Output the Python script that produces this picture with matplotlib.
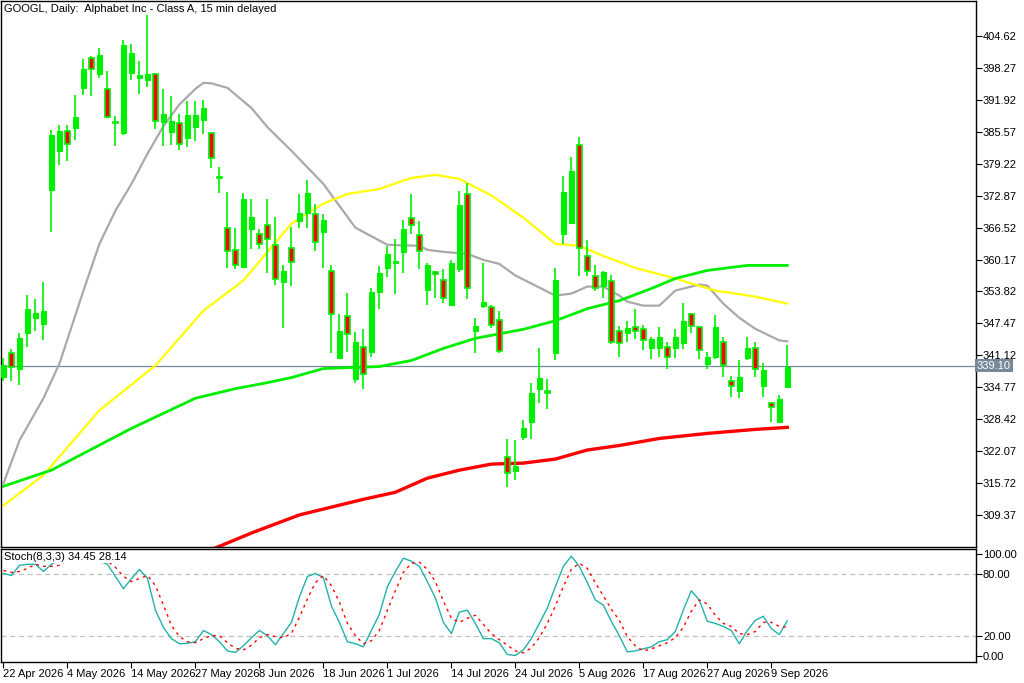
import matplotlib
matplotlib.use("Agg")
import matplotlib.pyplot as plt
from matplotlib.patches import Rectangle

# OHLC (daily candles)
opens  = [336.9,341.5,338.5,345.6,348.6,347.4,374.0,381.8,385.7,386.3,394.3,400.2,397.1,394.1,387.5,385.3,397.3,396.3,395.9,397.1,
          387.5,385.5,387.3,384.4,386.5,387.9,385.3,376.6,366.5,362.1,358.7,366.3,365.3,367.1,363.1,355.8,362.5,367.9,369.5,369.3,
          365.7,357.8,340.5,349.0,336.5,342.7,341.7,353.8,358.4,359.5,361.7,368.5,365.1,354.2,357.6,356.2,351.2,358.2,373.2,345.9,
          351.0,350.8,348.2,321.0,318.1,324.8,327.8,334.5,334.1,341.5,365.3,367.5,383.0,360.9,356.8,355.0,356.0,345.9,345.5,346.7,
          346.3,342.5,342.5,342.7,342.5,343.5,349.4,346.7,339.5,340.7,343.7,336.0,334.1,340.5,342.5,335.1,331.6,327.8,334.9]
highs  = [340.5,342.3,345.5,353.2,352.4,355.8,386.0,386.9,386.9,392.9,400.0,400.6,402.2,397.7,388.7,403.8,403.0,399.6,408.8,397.3,
          394.1,392.7,389.1,391.7,391.7,391.9,385.3,378.6,373.6,366.5,373.4,372.2,366.3,372.2,368.7,359.0,366.7,373.2,376.0,371.3,
          369.3,359.0,349.4,353.6,345.7,346.4,354.6,358.8,362.9,364.3,368.1,373.2,367.9,359.5,357.8,358.2,360.1,373.8,375.4,348.6,
          359.5,351.2,350.0,324.4,324.2,328.2,335.7,342.5,336.5,358.5,376.8,380.6,384.6,364.1,359.0,357.8,357.0,347.0,348.0,350.4,
          347.2,344.7,346.8,343.7,346.3,351.6,349.6,346.8,341.7,349.2,344.7,337.1,340.1,344.7,343.7,339.7,331.8,333.3,343.1]
lows   = [336.1,336.1,335.3,342.7,346.0,344.1,365.7,379.0,379.8,384.0,392.9,392.7,396.3,388.3,382.8,384.9,395.9,393.1,394.5,386.1,
          382.8,383.0,382.0,382.6,383.8,385.1,378.4,373.4,358.4,358.2,358.5,362.3,362.3,357.4,355.2,346.5,355.0,366.5,366.5,361.9,
          358.5,341.5,340.3,341.7,335.7,334.5,340.7,350.4,356.6,353.4,357.4,365.3,358.2,351.2,352.6,351.6,351.2,357.6,352.4,341.5,
          350.6,346.6,341.5,314.9,316.3,324.2,324.4,331.6,330.4,340.1,363.3,367.5,356.8,356.8,354.0,352.6,343.3,340.7,343.7,344.3,
          342.1,340.3,340.7,338.5,340.5,342.3,345.5,340.3,338.5,340.3,336.9,332.9,332.7,340.1,336.9,332.9,327.8,327.6,334.9]
closes = [339.3,338.9,344.5,350.4,349.6,350.0,385.0,385.7,383.2,388.5,398.1,398.1,400.8,388.5,387.3,402.8,401.2,396.9,397.1,387.7,
          389.1,387.7,383.2,388.9,388.9,390.3,380.4,376.4,361.9,359.1,372.2,368.7,363.3,364.3,356.4,357.8,359.7,369.5,373.4,363.7,
          368.1,349.4,346.0,345.3,343.7,337.5,353.8,357.4,361.3,359.9,366.3,367.1,361.9,359.0,357.2,352.6,359.5,371.1,354.6,346.9,
          351.8,347.2,341.9,317.7,319.2,326.6,333.7,336.7,333.7,356.2,373.6,377.8,362.5,357.8,354.6,357.6,343.7,343.5,346.5,345.9,
          344.1,344.3,344.7,340.7,344.7,348.0,347.0,342.1,340.7,346.7,339.3,335.1,336.9,342.5,338.5,338.3,330.8,332.5,338.9]

# Moving averages (bar index, value)
ma_gray_idx = [0,2,5,7,10,12,14,16,18,20,22,24,25,26,28,31,33,36,40,44,48,52,53,55,58,60,62,64,66,69,71,73,75,77,78,80,82,84,87,88,90,92,94,97,98]
ma_gray_val = [315.7,324.2,332.6,339.5,354.0,363.3,369.9,375.2,381.2,386.7,391.0,394.1,395.3,395.2,394.3,390.3,386.5,381.8,375.2,366.5,
               363.1,362.9,362.1,361.7,361.3,360.1,359.3,357.0,355.4,353.0,353.4,354.8,354.8,353.0,351.8,351.0,351.0,354.0,355.2,355.0,
               351.4,348.6,346.4,344.1,343.9]
ma_yellow_idx = [0,5,12,19,25,30,33,36,40,43,47,51,54,57,61,65,69,72,75,79,84,89,94,98]
ma_yellow_val = [311.3,317.3,330.2,339.1,350.0,356.0,361.7,367.3,371.3,373.2,374.2,376.4,377.0,376.2,372.9,368.5,363.3,362.9,360.9,
                 358.5,356.4,354.0,352.8,351.4]
ma_green_idx = [0,6,16,24,29,33,36,40,47,51,55,59,65,69,73,77,81,84,88,93,98]
ma_green_val = [315.1,318.3,326.6,332.6,334.5,335.7,336.7,338.5,338.9,340.1,342.5,344.5,346.3,348.0,350.4,352.0,354.4,356.4,358.0,
                359.0,359.0]
ma_red_idx = [26,31,37,45,49,53,57,61,65,69,73,77,82,88,94,98]
ma_red_val = [302.5,305.8,309.4,312.5,313.9,316.7,318.3,319.5,319.7,320.5,322.3,323.2,324.6,325.6,326.4,326.8]

# Stochastic (8,3,3)
stoch_k = [81,79,89,90,90,83,90,95,98,98,97,96,93,90,78,66,76,85,76,45,28,17,12,12.5,14,25,21,14,5,3.5,10,18,25,20,11,22,33,58,78,81,
           77,49,33,14,12,9,25,41,68,83,96,93,88,73,57,33,22,43,45,32,17,17,13,1.5,0.5,6,17,32,47,68,88,98,88,72,55,50,34,20,4,5,
           7,9,14,16,24,45,64,55,34,32,29,25,12,25,35,39,27,21,34.45]
stoch_d = [84,82,83,86,90,88,88,89,94,97,98,97,95,93,87,78,73,76,79,69,50,30,19,14,13,17,20,20,13,7.5,6,10.5,18,21,19,18,22,38,56,72,
           79,69,53,32,20,12,15,25,45,64,82,91,92,85,73,54,37,33,37,40,31,22,16,10.5,5,3,8,18,32,49,68,85,91,86,72,59,46,35,19,10,
           5,7,10,13,18,28,44,55,51,40,32,29,22,21,24,33,33,29,28.14]

price_ticks = [404.62,398.27,391.92,385.57,379.22,372.87,366.52,360.17,353.82,347.47,341.12,334.77,328.42,322.07,315.72,309.37]
date_labels = ["22 Apr 2026","4 May 2026","14 May 2026","27 May 2026","8 Jun 2026","18 Jun 2026","1 Jul 2026",
               "14 Jul 2026","24 Jul 2026","5 Aug 2026","17 Aug 2026","27 Aug 2026","9 Sep 2026"]
date_idx = [0,8,16,24,32,40,48,56,64,72,80,88,96]
last_price = 339.10

plt.rcParams['font.family'] = ['Liberation Sans', 'DejaVu Sans']
FS = 8
fig = plt.figure(figsize=(10.24, 6.83), dpi=100)
W, H = 1024, 683
ax = fig.add_axes([0.5/W, 1 - 547/H, 975.5/W, 546/H])
ax2 = fig.add_axes([0.5/W, 1 - 662/H, 975.5/W, 113/H])

xl = (-0.375, 121.6)
GREEN = '#00ee00'
for i in range(len(opens)):
    o, h, l, c = opens[i], highs[i], lows[i], closes[i]
    ax.vlines(i, l, h, color=GREEN, lw=1.2, zorder=3)
    bot, top = min(o, c), max(o, c)
    if c >= o:
        ax.add_patch(Rectangle((i - 0.3, bot), 0.6, max(top - bot, 0.15), fc=GREEN, ec=GREEN, lw=0.8, zorder=4))
    else:
        ax.add_patch(Rectangle((i - 0.3, bot), 0.6, max(top - bot, 0.15), fc='#ff0000', ec=GREEN, lw=1.2, zorder=4))

ax.plot(ma_gray_idx, ma_gray_val, color='#a9a9a9', lw=1.6, zorder=2)
ax.plot(ma_yellow_idx, ma_yellow_val, color='#ffff00', lw=1.6, zorder=2)
ax.plot(ma_green_idx, ma_green_val, color='#00ee00', lw=2.0, zorder=2)
ax.plot(ma_red_idx, ma_red_val, color='#ff0000', lw=2.4, zorder=2)
ax.axhline(last_price, color='#778899', lw=0.9, zorder=1)

ax.set_xlim(*xl)
ax.set_ylim(303.02, 411.57)
ax.yaxis.tick_right()
ax.set_yticks(price_ticks)
ax.set_yticklabels([f"{v:.2f}" for v in price_ticks])
ax.set_xticks([])
ax.tick_params(axis='y', direction='out', length=4, labelsize=FS, pad=1, colors='black')
ax.text(1.001, (last_price - 303.02) / (411.57 - 303.02), f"{last_price:.2f}", transform=ax.transAxes,
        ha='left', va='center', fontsize=FS, color='white',
        bbox=dict(boxstyle='square,pad=0.15', fc='#778899', ec='none'), clip_on=False, zorder=10)
ax.text(0.004, 0.995, "GOOGL, Daily:  Alphabet Inc - Class A, 15 min delayed", transform=ax.transAxes,
        ha='left', va='top', fontsize=FS)

x = list(range(len(stoch_k)))
ax2.plot(x, stoch_k, color='#20b2aa', lw=1.0, zorder=3)
ax2.plot(x, stoch_d, color='#ff0000', lw=1.0, ls=(0, (2, 3)), zorder=3)
for lv in (80, 20):
    ax2.axhline(lv, color='#c0c0c0', lw=0.9, ls=(0, (4, 3)), zorder=1)
ax2.set_xlim(*xl)
ax2.set_ylim(-5.9, 105.0)
ax2.yaxis.tick_right()
ax2.set_yticks([100, 80, 20, 0])
ax2.set_yticklabels(["100.00", "80.00", "20.00", "0.00"])
ax2.tick_params(axis='y', direction='out', length=4, labelsize=FS, pad=1)
ax2.set_xticks(date_idx)
ax2.set_xticklabels(date_labels, ha='left')
ax2.tick_params(axis='x', direction='out', length=4, labelsize=FS, pad=1)
ax2.text(0.004, 0.97, "Stoch(8,3,3) 34.45 28.14", transform=ax2.transAxes, ha='left', va='top', fontsize=FS,
         bbox=dict(fc='white', ec='none', pad=0.5), zorder=5)

for a in (ax, ax2):
    for s in a.spines.values():
        s.set_linewidth(1.0)

fig.savefig("out.png", dpi=100, facecolor='white')
